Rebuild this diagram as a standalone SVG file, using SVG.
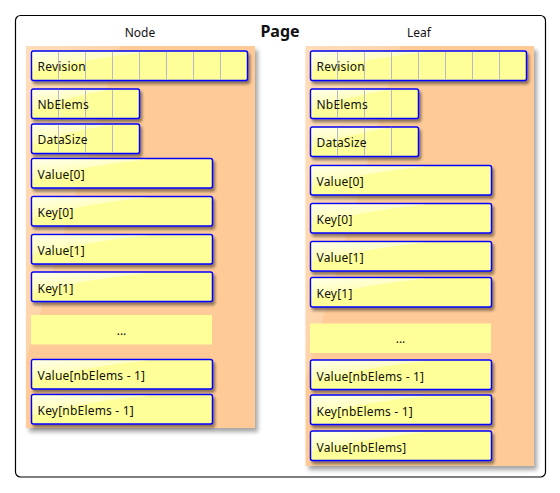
<svg xmlns="http://www.w3.org/2000/svg" width="560" height="493" viewBox="0 0 560 493">
  <defs>
    <filter id="sh" x="-10%" y="-20%" width="130%" height="160%">
      <feGaussianBlur in="SourceAlpha" stdDeviation="1.5"/>
      <feOffset dx="2" dy="3" result="o"/>
      <feComponentTransfer><feFuncA type="linear" slope="0.45"/></feComponentTransfer>
      <feMerge><feMergeNode/><feMergeNode in="SourceGraphic"/></feMerge>
    </filter>
    <filter id="psh" x="-5%" y="-5%" width="115%" height="115%">
      <feGaussianBlur in="SourceAlpha" stdDeviation="2"/>
      <feOffset dx="3" dy="4" result="o"/>
      <feComponentTransfer><feFuncA type="linear" slope="0.35"/></feComponentTransfer>
      <feMerge><feMergeNode/><feMergeNode in="SourceGraphic"/></feMerge>
    </filter>
    <linearGradient id="gloss" x1="0" y1="0" x2="0.6" y2="1">
      <stop offset="0" stop-color="#ffffff" stop-opacity="0.8"/>
      <stop offset="1" stop-color="#ffffff" stop-opacity="0"/>
    </linearGradient>
    <linearGradient id="pgloss" x1="0" y1="0" x2="1" y2="1">
      <stop offset="0" stop-color="#ffffff" stop-opacity="0.35"/>
      <stop offset="1" stop-color="#ffffff" stop-opacity="0"/>
    </linearGradient>
  </defs>
  <style>
    .panel { fill: #fecb98; }
    .box { fill: #ffff99; stroke: #0000ff; stroke-width: 1.5; }
    .ell { fill: #ffff99; }
    .cell { stroke: #b8b8cc; stroke-width: 1; }
    .t { font-family: "Noto Sans", "DejaVu Sans", sans-serif; font-size: 12px; letter-spacing: 0.2px; fill: #111; }
    .h { font-family: "Noto Sans", "DejaVu Sans", sans-serif; font-size: 12px; fill: #111; text-anchor: middle; }
    .title { font-family: "Noto Sans", "DejaVu Sans", sans-serif; font-size: 16px; font-weight: bold; fill: #111; text-anchor: middle; }
  </style>

  <rect x="15.5" y="15.5" width="530" height="461.5" rx="5" fill="#ffffff" stroke="#000000" stroke-width="1.2"/>
  <text class="title" x="280" y="37">Page</text>
  <text class="h" x="140" y="37">Node</text>
  <text class="h" x="419" y="37">Leaf</text>

  <g id="node-panel">
    <rect class="panel" x="26" y="46" width="229" height="382" filter="url(#psh)"/>
    <path d="M26 46 H120 L26 360 Z" fill="url(#pgloss)"/>
  </g>
  <g id="leaf-panel">
    <rect class="panel" x="305.5" y="46" width="228.5" height="420" filter="url(#psh)"/>
    <path d="M305.5 46 H400 L305.5 380 Z" fill="url(#pgloss)"/>
  </g>

  <!-- Node side -->
  <g id="node-revision">
    <rect class="box" x="31.5" y="51" width="216" height="29.5" rx="2" filter="url(#sh)"/>
    <path d="M32.5 52 H150 Q90 58 32.5 72 Z" fill="url(#gloss)"/>
    <g class="cell"><line x1="58.5" y1="51.8" x2="58.5" y2="79.8"/><line x1="85.5" y1="51.8" x2="85.5" y2="79.8"/><line x1="112.5" y1="51.8" x2="112.5" y2="79.8"/><line x1="139.5" y1="51.8" x2="139.5" y2="79.8"/><line x1="166.5" y1="51.8" x2="166.5" y2="79.8"/><line x1="193.5" y1="51.8" x2="193.5" y2="79.8"/><line x1="220.5" y1="51.8" x2="220.5" y2="79.8"/></g>
    <text class="t" x="37.5" y="71">Revision</text>
  </g>
  <g id="node-nbelems">
    <rect class="box" x="31.5" y="89" width="108" height="29.5" rx="2" filter="url(#sh)"/>
    <path d="M32.5 90 H110 Q70 96 32.5 110 Z" fill="url(#gloss)"/>
    <g class="cell"><line x1="58.5" y1="89.8" x2="58.5" y2="117.8"/><line x1="85.5" y1="89.8" x2="85.5" y2="117.8"/><line x1="112.5" y1="89.8" x2="112.5" y2="117.8"/></g>
    <text class="t" x="37.5" y="109">NbElems</text>
  </g>
  <g id="node-datasize">
    <rect class="box" x="31.5" y="124" width="108" height="29.5" rx="2" filter="url(#sh)"/>
    <path d="M32.5 125 H110 Q70 131 32.5 145 Z" fill="url(#gloss)"/>
    <g class="cell"><line x1="58.5" y1="124.8" x2="58.5" y2="152.8"/><line x1="85.5" y1="124.8" x2="85.5" y2="152.8"/><line x1="112.5" y1="124.8" x2="112.5" y2="152.8"/></g>
    <text class="t" x="37.5" y="144">DataSize</text>
  </g>
  <g id="node-value0">
    <rect class="box" x="31.5" y="158.5" width="181" height="29.5" rx="2" filter="url(#sh)"/>
    <path d="M32.5 159.5 H148 Q90 165 32.5 179.5 Z" fill="url(#gloss)"/>
    <text class="t" x="37.5" y="179">Value[0]</text>
  </g>
  <g id="node-key0">
    <rect class="box" x="31.5" y="196.5" width="181" height="29.5" rx="2" filter="url(#sh)"/>
    <path d="M32.5 197.5 H148 Q90 203 32.5 217.5 Z" fill="url(#gloss)"/>
    <text class="t" x="37.5" y="217">Key[0]</text>
  </g>
  <g id="node-value1">
    <rect class="box" x="31.5" y="234.5" width="181" height="29.5" rx="2" filter="url(#sh)"/>
    <path d="M32.5 235.5 H148 Q90 241 32.5 255.5 Z" fill="url(#gloss)"/>
    <text class="t" x="37.5" y="255">Value[1]</text>
  </g>
  <g id="node-key1">
    <rect class="box" x="31.5" y="272" width="181" height="29.5" rx="2" filter="url(#sh)"/>
    <path d="M32.5 273 H148 Q90 278.5 32.5 293 Z" fill="url(#gloss)"/>
    <text class="t" x="37.5" y="292.5">Key[1]</text>
  </g>
  <g id="node-ellipsis">
    <rect class="ell" x="31" y="315" width="181" height="29.5"/>
    <text class="h" x="121.5" y="334.5">...</text>
  </g>
  <g id="node-valuen1">
    <rect class="box" x="31.5" y="359.5" width="181" height="29.5" rx="2" filter="url(#sh)"/>
    <path d="M32.5 360.5 H148 Q90 366 32.5 380.5 Z" fill="url(#gloss)"/>
    <text class="t" x="37.5" y="380">Value[nbElems - 1]</text>
  </g>
  <g id="node-keyn1">
    <rect class="box" x="31.5" y="394.5" width="181" height="29.5" rx="2" filter="url(#sh)"/>
    <path d="M32.5 395.5 H148 Q90 401 32.5 415.5 Z" fill="url(#gloss)"/>
    <text class="t" x="37.5" y="415">Key[nbElems - 1]</text>
  </g>

  <!-- Leaf side -->
  <g id="leaf-revision">
    <rect class="box" x="310.5" y="51" width="216" height="29.5" rx="2" filter="url(#sh)"/>
    <path d="M311.5 52 H429 Q369 58 311.5 72 Z" fill="url(#gloss)"/>
    <g class="cell"><line x1="337.5" y1="51.8" x2="337.5" y2="79.8"/><line x1="364.5" y1="51.8" x2="364.5" y2="79.8"/><line x1="391.5" y1="51.8" x2="391.5" y2="79.8"/><line x1="418.5" y1="51.8" x2="418.5" y2="79.8"/><line x1="445.5" y1="51.8" x2="445.5" y2="79.8"/><line x1="472.5" y1="51.8" x2="472.5" y2="79.8"/><line x1="499.5" y1="51.8" x2="499.5" y2="79.8"/></g>
    <text class="t" x="316.5" y="71">Revision</text>
  </g>
  <g id="leaf-nbelems">
    <rect class="box" x="310.5" y="89" width="108" height="29.5" rx="2" filter="url(#sh)"/>
    <path d="M311.5 90 H389 Q349 96 311.5 110 Z" fill="url(#gloss)"/>
    <g class="cell"><line x1="337.5" y1="89.8" x2="337.5" y2="117.8"/><line x1="364.5" y1="89.8" x2="364.5" y2="117.8"/><line x1="391.5" y1="89.8" x2="391.5" y2="117.8"/></g>
    <text class="t" x="316.5" y="109">NbElems</text>
  </g>
  <g id="leaf-datasize">
    <rect class="box" x="310.5" y="127" width="108" height="29.5" rx="2" filter="url(#sh)"/>
    <path d="M311.5 128 H389 Q349 134 311.5 148 Z" fill="url(#gloss)"/>
    <g class="cell"><line x1="337.5" y1="127.8" x2="337.5" y2="155.8"/><line x1="364.5" y1="127.8" x2="364.5" y2="155.8"/><line x1="391.5" y1="127.8" x2="391.5" y2="155.8"/></g>
    <text class="t" x="316.5" y="147">DataSize</text>
  </g>
  <g id="leaf-value0">
    <rect class="box" x="310.5" y="165.5" width="181" height="29.5" rx="2" filter="url(#sh)"/>
    <path d="M311.5 166.5 H427 Q369 172 311.5 186.5 Z" fill="url(#gloss)"/>
    <text class="t" x="316.5" y="186">Value[0]</text>
  </g>
  <g id="leaf-key0">
    <rect class="box" x="310.5" y="203.5" width="181" height="29.5" rx="2" filter="url(#sh)"/>
    <path d="M311.5 204.5 H427 Q369 210 311.5 224.5 Z" fill="url(#gloss)"/>
    <text class="t" x="316.5" y="224">Key[0]</text>
  </g>
  <g id="leaf-value1">
    <rect class="box" x="310.5" y="241.5" width="181" height="29.5" rx="2" filter="url(#sh)"/>
    <path d="M311.5 242.5 H427 Q369 248 311.5 262.5 Z" fill="url(#gloss)"/>
    <text class="t" x="316.5" y="262">Value[1]</text>
  </g>
  <g id="leaf-key1">
    <rect class="box" x="310.5" y="277.5" width="181" height="29.5" rx="2" filter="url(#sh)"/>
    <path d="M311.5 278.5 H427 Q369 284 311.5 298.5 Z" fill="url(#gloss)"/>
    <text class="t" x="316.5" y="298">Key[1]</text>
  </g>
  <g id="leaf-ellipsis">
    <rect class="ell" x="310" y="323.5" width="181" height="29.5"/>
    <text class="h" x="400.5" y="343">...</text>
  </g>
  <g id="leaf-valuen1">
    <rect class="box" x="310.5" y="360" width="181" height="29.5" rx="2" filter="url(#sh)"/>
    <path d="M311.5 361 H427 Q369 366.5 311.5 381 Z" fill="url(#gloss)"/>
    <text class="t" x="316.5" y="380.5">Value[nbElems - 1]</text>
  </g>
  <g id="leaf-keyn1">
    <rect class="box" x="310.5" y="395" width="181" height="29.5" rx="2" filter="url(#sh)"/>
    <path d="M311.5 396 H427 Q369 401.5 311.5 416 Z" fill="url(#gloss)"/>
    <text class="t" x="316.5" y="415.5">Key[nbElems - 1]</text>
  </g>
  <g id="leaf-valuen">
    <rect class="box" x="310.5" y="431" width="181" height="29.5" rx="2" filter="url(#sh)"/>
    <path d="M311.5 432 H427 Q369 437.5 311.5 452 Z" fill="url(#gloss)"/>
    <text class="t" x="316.5" y="451.5">Value[nbElems]</text>
  </g>

  <g id="connectors"/>
</svg>
